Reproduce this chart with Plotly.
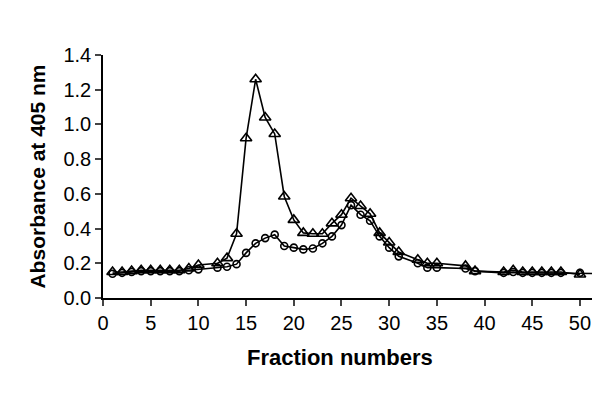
import plotly.graph_objects as go

# fraction numbers sampled
fractions = [1, 2, 3, 4, 5, 6, 7, 8, 9, 10, 12, 13, 14, 15, 16, 17, 18, 19, 20,
             21, 22, 23, 24, 25, 26, 27, 28, 29, 30, 31, 33, 34, 35, 38, 39,
             42, 43, 44, 45, 46, 47, 48, 50]

# triangles
abs_triangle = [0.15, 0.15, 0.155, 0.16, 0.16, 0.16, 0.16, 0.16, 0.17, 0.19,
                0.20, 0.23, 0.37, 0.92, 1.26, 1.04, 0.945, 0.585, 0.45,
                0.375, 0.37, 0.37, 0.43, 0.48, 0.575, 0.53, 0.485, 0.375,
                0.32, 0.265, 0.22, 0.20, 0.20, 0.185, 0.155,
                0.15, 0.16, 0.15, 0.15, 0.15, 0.15, 0.15, 0.135]

# circles (line runs on past the last fraction)
fractions_circle = fractions + [54]
abs_circle = [0.14, 0.145, 0.15, 0.155, 0.155, 0.155, 0.155, 0.155, 0.16, 0.165,
              0.175, 0.18, 0.195, 0.26, 0.315, 0.345, 0.365, 0.30, 0.29,
              0.28, 0.285, 0.315, 0.355, 0.42, 0.535, 0.48, 0.445, 0.355,
              0.29, 0.24, 0.20, 0.175, 0.175, 0.17, 0.155,
              0.145, 0.15, 0.145, 0.145, 0.145, 0.145, 0.145, 0.145, 0.14]

x_ticks = [0, 5, 10, 15, 20, 25, 30, 35, 40, 45, 50]
y_ticks = [0.0, 0.2, 0.4, 0.6, 0.8, 1.0, 1.2, 1.4]

fig = go.Figure()
fig.add_trace(go.Scatter(
    x=fractions_circle, y=abs_circle,
    mode="lines+markers",
    line=dict(color="black", width=1.6),
    marker=dict(symbol="circle-open", size=7, color="black", line=dict(width=1.6)),
    showlegend=False,
))
fig.add_trace(go.Scatter(
    x=fractions, y=abs_triangle,
    mode="lines+markers",
    line=dict(color="black", width=1.6),
    marker=dict(symbol="triangle-up-open", size=10, color="black", line=dict(width=1.6)),
    showlegend=False,
))

font = "Liberation Sans, Arial, sans-serif"
fig.update_xaxes(
    range=[0, 52.1], tickvals=x_ticks, ticks="outside", ticklen=6, tickwidth=1.5,
    showline=True, linecolor="black", linewidth=1.5, showgrid=False, zeroline=False,
    tickfont=dict(size=20, color="black", family=font),
)
fig.update_yaxes(
    range=[0, 1.4], tickvals=y_ticks, tickformat=".1f", ticks="outside", ticklen=6,
    tickwidth=1.5, showline=True, linecolor="black", linewidth=1.5, showgrid=False,
    zeroline=False, tickfont=dict(size=20, color="black", family=font),
    title=dict(text="<b>Absorbance at 405 nm</b>", font=dict(size=21, color="black", family=font),
               standoff=12),
)
# x title sits a little left of the plot centre in the original
fig.add_annotation(
    text="<b>Fraction numbers</b>", xref="paper", yref="paper", x=0.477, y=0,
    xanchor="center", yanchor="middle", yshift=-59, showarrow=False,
    font=dict(size=22, color="black", family=font),
)
# page body adds an 8px margin, so shift the figure margins to compensate
fig.update_layout(
    width=600, height=400,
    paper_bgcolor="white", plot_bgcolor="white",
    margin=dict(l=95, r=8, t=47, b=110),
)
fig.write_html("out.html")
